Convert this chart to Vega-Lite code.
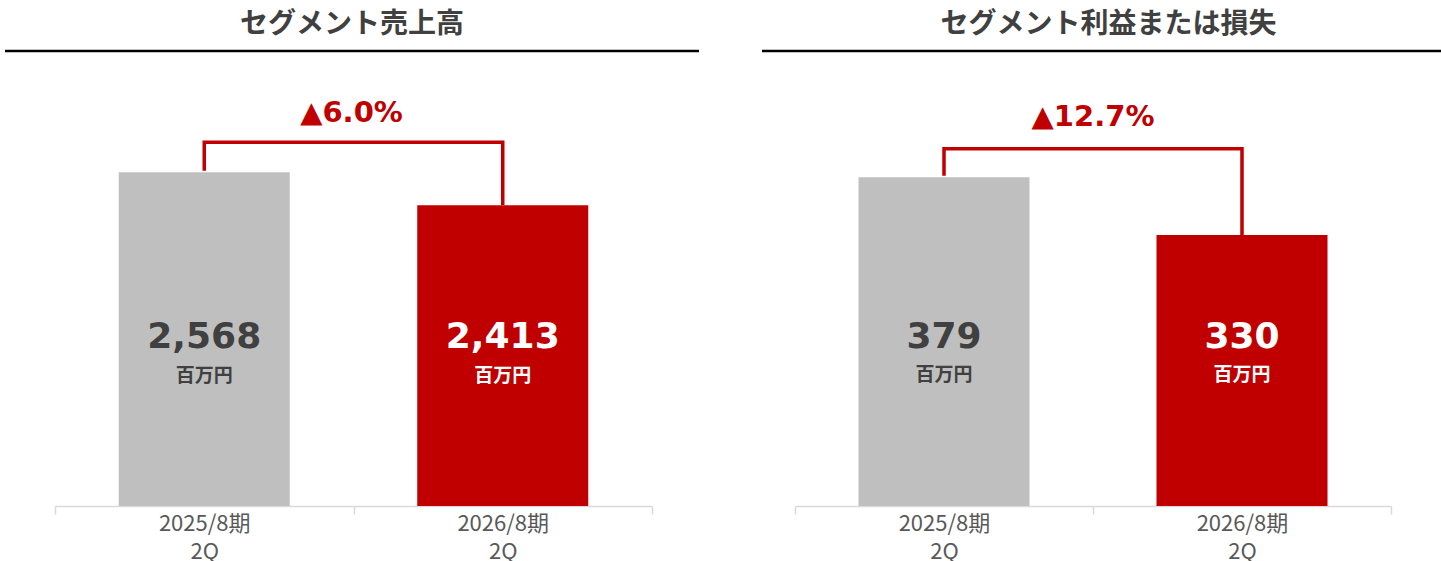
{
  "$schema": "https://vega.github.io/schema/vega-lite/v6.json",
  "padding": {"left": 3, "top": 0, "right": 0, "bottom": 0},
  "spacing": 59,
  "background": "white",
  "config": {
    "view": {"stroke": null},
    "axisX": {
      "title": null, "labelAngle": 0, "grid": false,
      "domainColor": "#D9D9D9", "domainWidth": 1.5,
      "tickColor": "#D9D9D9", "tickWidth": 1.5, "tickSize": 8, "tickBand": "extent",
      "labelFont": "Noto Sans CJK JP", "labelFontSize": 22, "labelColor": "#595959",
      "labelLineHeight": 28, "labelPadding": -1,
      "labelExpr": "split(datum.label, ' ')"
    }
  },
  "datasets": {
    "sales": [
      {"period": "2025/8期 2Q", "value": 2568},
      {"period": "2026/8期 2Q", "value": 2413}
    ],
    "salesBracket": [
      {"period": "2025/8期 2Q", "v": 2576, "o": 1},
      {"period": "2025/8期 2Q", "v": 2710, "o": 2},
      {"period": "2026/8期 2Q", "v": 2710, "o": 3},
      {"period": "2026/8期 2Q", "v": 2413, "o": 4}
    ],
    "profit": [
      {"period": "2025/8期 2Q", "value": 379},
      {"period": "2026/8期 2Q", "value": 330}
    ],
    "profitBracket": [
      {"period": "2025/8期 2Q", "v": 380.4, "o": 1},
      {"period": "2025/8期 2Q", "v": 403.3, "o": 2},
      {"period": "2026/8期 2Q", "v": 403.3, "o": 3},
      {"period": "2026/8期 2Q", "v": 330, "o": 4}
    ],
    "one": [{"k": 1}],
    "mid": [{"period": "2026/8期 2Q"}]
  },
  "hconcat": [
    {
      "width": 694,
      "height": 506,
      "resolve": {"scale": {"color": "independent"}},
      "layer": [
        {
          "data": {"name": "one"},
          "mark": {"type": "text", "font": "Noto Sans CJK JP", "fontWeight": "bold", "fontSize": 28, "color": "#404040", "baseline": "middle", "align": "center"},
          "encoding": {
            "y": {"datum": 3260, "type": "quantitative", "scale": {"domain": [1000, 3378], "zero": false, "nice": false}, "axis": null},
            "text": {"value": "セグメント売上高"}
          }
        },
        {
          "data": {"name": "one"},
          "mark": {"type": "rule", "color": "#000000", "strokeWidth": 2.5},
          "encoding": {
            "y": {"datum": 3138, "type": "quantitative", "scale": {"domain": [1000, 3378], "zero": false, "nice": false}, "axis": null}
          }
        },
        {
          "data": {"name": "sales"},
          "mark": {"type": "bar", "width": 171},
          "encoding": {
            "x": {"field": "period", "type": "nominal", "sort": null, "scale": {"range": [50, 647], "paddingInner": 0, "paddingOuter": 0}},
            "y": {"field": "value", "type": "quantitative", "scale": {"domain": [1000, 3378], "zero": false, "nice": false}, "axis": null},
            "y2": {"datum": 1000},
            "color": {"field": "period", "type": "nominal", "sort": null, "scale": {"range": ["#BFBFBF", "#C00000"]}, "legend": null}
          }
        },
        {
          "data": {"name": "sales"},
          "mark": {"type": "text", "font": "DejaVu Sans", "fontWeight": "bold", "fontSize": 36, "baseline": "middle", "align": "center"},
          "encoding": {
            "x": {"field": "period", "type": "nominal", "sort": null},
            "y": {"datum": 1794, "type": "quantitative", "scale": {"domain": [1000, 3378], "zero": false, "nice": false}, "axis": null},
            "text": {"field": "value", "type": "quantitative", "format": ","},
            "color": {"field": "period", "type": "nominal", "sort": null, "scale": {"range": ["#404040", "#FFFFFF"]}, "legend": null}
          }
        },
        {
          "data": {"name": "sales"},
          "mark": {"type": "text", "font": "Noto Sans CJK JP", "fontWeight": "bold", "fontSize": 19, "baseline": "middle", "align": "center"},
          "encoding": {
            "x": {"field": "period", "type": "nominal", "sort": null},
            "y": {"datum": 1611, "type": "quantitative", "scale": {"domain": [1000, 3378], "zero": false, "nice": false}, "axis": null},
            "text": {"value": "百万円"},
            "color": {"field": "period", "type": "nominal", "sort": null, "scale": {"range": ["#404040", "#FFFFFF"]}, "legend": null}
          }
        },
        {
          "data": {"name": "salesBracket"},
          "mark": {"type": "line", "color": "#C00000", "strokeWidth": 3.5, "strokeJoin": "miter", "strokeCap": "butt"},
          "encoding": {
            "x": {"field": "period", "type": "nominal", "sort": null},
            "y": {"field": "v", "type": "quantitative", "scale": {"domain": [1000, 3378], "zero": false, "nice": false}, "axis": null},
            "order": {"field": "o"}
          }
        },
        {
          "data": {"name": "mid"},
          "mark": {"type": "text", "font": "DejaVu Sans", "fontWeight": "bold", "fontSize": 29, "color": "#C00000", "baseline": "middle", "align": "center", "dx": -2},
          "encoding": {
            "x": {"field": "period", "type": "nominal", "sort": null, "bandPosition": 0},
            "y": {"datum": 2847, "type": "quantitative", "scale": {"domain": [1000, 3378], "zero": false, "nice": false}, "axis": null},
            "text": {"value": "▲6.0%"}
          }
        }
      ]
    },
    {
      "width": 679,
      "height": 506,
      "resolve": {"scale": {"color": "independent"}},
      "layer": [
        {
          "data": {"name": "one"},
          "mark": {"type": "text", "font": "Noto Sans CJK JP", "fontWeight": "bold", "fontSize": 28, "color": "#404040", "baseline": "middle", "align": "center", "dx": 7},
          "encoding": {
            "y": {"datum": 508.3, "type": "quantitative", "scale": {"domain": [100, 529.5], "zero": false, "nice": false}, "axis": null},
            "text": {"value": "セグメント利益または損失"}
          }
        },
        {
          "data": {"name": "one"},
          "mark": {"type": "rule", "color": "#000000", "strokeWidth": 2.5},
          "encoding": {
            "y": {"datum": 486.2, "type": "quantitative", "scale": {"domain": [100, 529.5], "zero": false, "nice": false}, "axis": null}
          }
        },
        {
          "data": {"name": "profit"},
          "mark": {"type": "bar", "width": 171},
          "encoding": {
            "x": {"field": "period", "type": "nominal", "sort": null, "scale": {"range": [33, 629], "paddingInner": 0, "paddingOuter": 0}},
            "y": {"field": "value", "type": "quantitative", "scale": {"domain": [100, 529.5], "zero": false, "nice": false}, "axis": null},
            "y2": {"datum": 100},
            "color": {"field": "period", "type": "nominal", "sort": null, "scale": {"range": ["#BFBFBF", "#C00000"]}, "legend": null}
          }
        },
        {
          "data": {"name": "profit"},
          "mark": {"type": "text", "font": "DejaVu Sans", "fontWeight": "bold", "fontSize": 36, "baseline": "middle", "align": "center"},
          "encoding": {
            "x": {"field": "period", "type": "nominal", "sort": null},
            "y": {"datum": 243.7, "type": "quantitative", "scale": {"domain": [100, 529.5], "zero": false, "nice": false}, "axis": null},
            "text": {"field": "value", "type": "quantitative", "format": ","},
            "color": {"field": "period", "type": "nominal", "sort": null, "scale": {"range": ["#404040", "#FFFFFF"]}, "legend": null}
          }
        },
        {
          "data": {"name": "profit"},
          "mark": {"type": "text", "font": "Noto Sans CJK JP", "fontWeight": "bold", "fontSize": 19, "baseline": "middle", "align": "center"},
          "encoding": {
            "x": {"field": "period", "type": "nominal", "sort": null},
            "y": {"datum": 211.2, "type": "quantitative", "scale": {"domain": [100, 529.5], "zero": false, "nice": false}, "axis": null},
            "text": {"value": "百万円"},
            "color": {"field": "period", "type": "nominal", "sort": null, "scale": {"range": ["#404040", "#FFFFFF"]}, "legend": null}
          }
        },
        {
          "data": {"name": "profitBracket"},
          "mark": {"type": "line", "color": "#C00000", "strokeWidth": 3.5, "strokeJoin": "miter", "strokeCap": "butt"},
          "encoding": {
            "x": {"field": "period", "type": "nominal", "sort": null},
            "y": {"field": "v", "type": "quantitative", "scale": {"domain": [100, 529.5], "zero": false, "nice": false}, "axis": null},
            "order": {"field": "o"}
          }
        },
        {
          "data": {"name": "mid"},
          "mark": {"type": "text", "font": "DejaVu Sans", "fontWeight": "bold", "fontSize": 29, "color": "#C00000", "baseline": "middle", "align": "center"},
          "encoding": {
            "x": {"field": "period", "type": "nominal", "sort": null, "bandPosition": 0},
            "y": {"datum": 430.2, "type": "quantitative", "scale": {"domain": [100, 529.5], "zero": false, "nice": false}, "axis": null},
            "text": {"value": "▲12.7%"}
          }
        }
      ]
    }
  ]
}
